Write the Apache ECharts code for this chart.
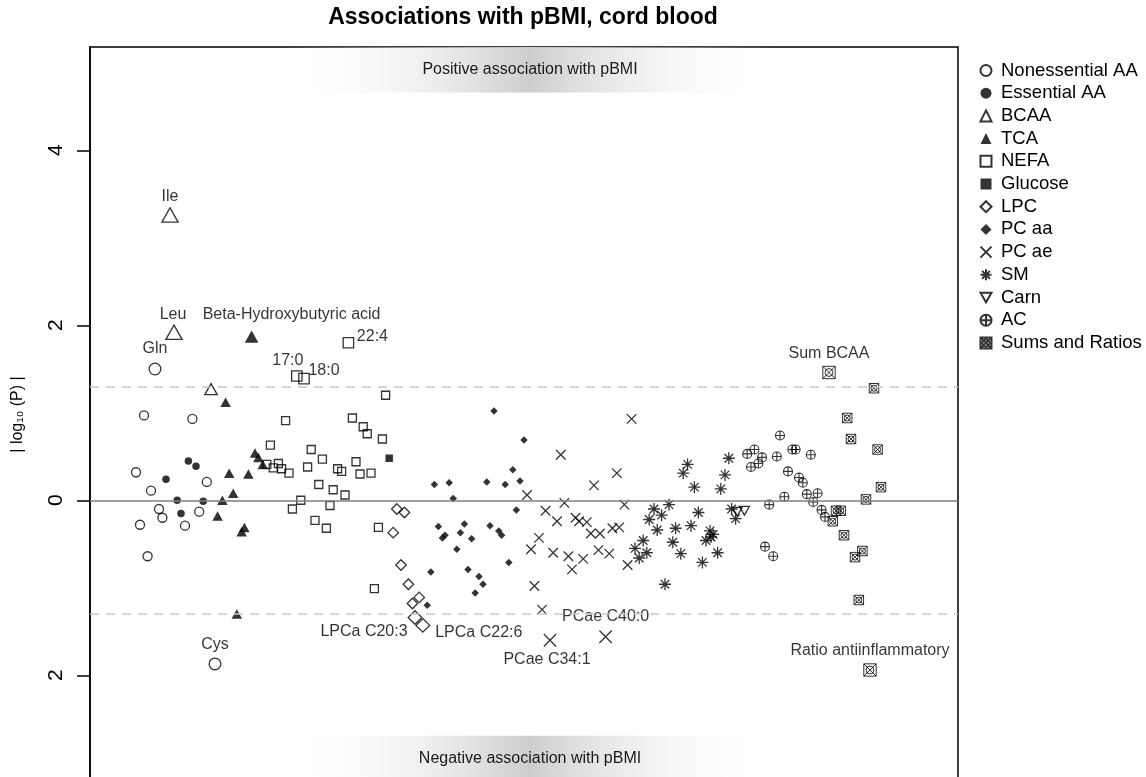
<!DOCTYPE html>
<html><head><meta charset="utf-8">
<script src="https://cdn.jsdelivr.net/npm/echarts@6/dist/echarts.min.js"></script>
<style>html,body{margin:0;padding:0;background:#fff}#c{width:1146px;height:777px}</style>
</head><body><div id="c"></div>
<script>
// ---- data: [metabolite index, signed |log10(P)|, optional label] ----
const nonessentialAA = [[16.25,1.50,'Gln'],[31.25,-1.87,'Cys'],[13.5,0.97],[25.6,0.93],[11.5,0.32],[29.2,0.21],[15.25,0.11],[17.25,-0.10],[18.1,-0.20],[27.3,-0.13],[12.5,-0.28],[23.75,-0.29],[14.4,-0.64]];
const essentialAA = [[24.6,0.45],[26.5,0.39],[19,0.24],[21.8,0.0],[28.3,-0.01],[22.75,-0.15]];
const bcaa = [[20,3.26,'Ile'],[21,1.92,'Leu'],[30.25,1.27]];
const tca = [[40.4,1.87,'Beta-Hydroxybutyric acid'],[33.9,1.12],[41.25,0.54],[42.1,0.49],[43.2,0.41],[34.8,0.31],[39.6,0.30],[35.8,0.08],[33.1,0.0],[31.9,-0.18],[38.6,-0.31],[37.9,-0.36],[36.7,-1.30]];
const nefa = [[51.7,1.42,'17:0'],[53.5,1.39,'18:0'],[64.6,1.80,'22:4'],[73.9,1.20],[48.9,0.91],[65.6,0.94],[68.3,0.84],[69.3,0.76],[73.1,0.70],[45.1,0.63],[55.3,0.58],[58.1,0.47],[66.5,0.44],[44.2,0.41],[47.1,0.42],[45.8,0.37],[47.9,0.36],[49.75,0.31],[54.4,0.38],[61.9,0.36],[62.9,0.33],[67.5,0.30],[70.25,0.31],[57.2,0.18],[60.8,0.12],[63.75,0.06],[52.7,0.0],[50.6,-0.10],[60,-0.06],[56.25,-0.23],[59.1,-0.32],[72.1,-0.31],[71.1,-1.01]];
const glucose = [[74.8,0.48]];
const lpc = [[81.25,-1.34,'LPCa C20:3'],[83.2,-1.43,'LPCa C22:6'],[76.7,-0.10],[78.6,-0.14],[75.8,-0.37],[77.75,-0.74],[79.6,-0.96],[82.3,-1.11],[80.6,-1.18]];
const pcaa = [[101,1.02],[108.5,0.69],[105.7,0.35],[86.1,0.18],[89.8,0.20],[99.2,0.21],[103.8,0.18],[107.5,0.22],[90.8,0.02],[106.6,-0.11],[87.1,-0.30],[93.6,-0.27],[100,-0.29],[88.1,-0.43],[88.75,-0.40],[92.6,-0.37],[95.4,-0.44],[102.2,-0.35],[102.9,-0.40],[91.7,-0.56],[104.7,-0.71],[85.2,-0.82],[94.5,-0.79],[97.25,-0.87],[98.25,-0.96],[96.3,-1.06],[84.3,-1.20]];
const pcae = [[115,-1.60,'PCae C34:1'],[128.9,-1.56,'PCae C40:0'],[135.4,0.93],[117.7,0.52],[131.7,0.31],[126,0.17],[109.25,0.06],[118.6,-0.03],[133.6,-0.05],[113.9,-0.12],[116.75,-0.24],[121.4,-0.20],[122.3,-0.24],[124.2,-0.25],[125.2,-0.38],[127.5,-0.38],[130.6,-0.32],[132.3,-0.31],[112.25,-0.43],[110.25,-0.56],[115.8,-0.60],[119.6,-0.64],[123.3,-0.67],[127.1,-0.57],[129.8,-0.61],[120.5,-0.79],[134.4,-0.74],[111.1,-0.98],[113,-1.25]];
const sm = [[149.4,0.41],[148.3,0.31],[151.1,0.15],[144.75,-0.05],[141,-0.10],[142.9,-0.17],[139.8,-0.22],[152.1,-0.14],[150.25,-0.29],[146.4,-0.32],[141.8,-0.34],[145.7,-0.48],[138.3,-0.46],[136.25,-0.55],[139.2,-0.60],[137.3,-0.66],[147.7,-0.61],[143.75,-0.96],[153.1,-0.71],[159.7,0.48],[158.75,0.29],[157.7,0.13],[160.4,-0.10],[161.4,-0.21],[154,-0.46],[155,-0.35],[155.8,-0.39],[156.9,-0.60],[155.25,-0.42]];
const carn = [[161.8,-0.13],[163.6,-0.12]];
const ac = [[172.5,0.74],[164.3,0.53],[166.1,0.58],[168,0.49],[165.25,0.38],[167.1,0.42],[171.7,0.50],[175.6,0.58],[176.4,0.58],[180.2,0.52],[174.5,0.33],[177.25,0.26],[178.2,0.20],[179.2,0.07],[181.9,0.08],[180.8,-0.02],[182.9,-0.11],[183.75,-0.19],[173.6,0.04],[169.8,-0.05],[168.75,-0.53],[170.8,-0.64]];
const sumsRatios = [[184.75,1.46,'Sum BCAA'],[195,-1.94,'Ratio antiinflammatory'],[196,1.28],[189.3,0.94],[190.25,0.70],[196.9,0.58],[197.75,0.15],[194,0.01],[186.5,-0.12],[187.7,-0.12],[185.7,-0.24],[188.5,-0.40],[193.1,-0.58],[191.25,-0.65],[192.2,-1.14]];
const yTicks = [-2, 0, 2, 4];
const significance = 1.3;

// ---- styling ----
const FONT = "'Liberation Sans', Arial, Helvetica, sans-serif";
const P_X = 'path://M0,0L10,10M10,0L0,10';
const P_AST = 'path://M5,0L5,10M0,5L10,5M1.46,1.46L8.54,8.54M8.54,1.46L1.46,8.54';
const P_OPLUS = 'path://M10,5A5,5,0,1,1,0,5A5,5,0,1,1,10,5ZM0,5L10,5M5,0L5,10';
const P_BOXX = 'path://M0,0L10,0L10,10L0,10ZM0,0L10,10M10,0L0,10M8.2,5A3.2,3.2,0,1,1,1.8,5A3.2,3.2,0,1,1,8.2,5Z';
const P_DOWN = 'path://M0,0L10,0L5,8.66Z';
const labelOffsets = {
  'Ile':[0,-18], 'Leu':[-1,-18], 'Gln':[0,-20], 'Cys':[0,-19],
  'Beta-Hydroxybutyric acid':[40,-22], '22:4':[24,-6], '17:0':[-9,-15], '18:0':[20,-8],
  'LPCa C20:3':[-51,14], 'LPCa C22:6':[56,7], 'PCae C34:1':[-3,19], 'PCae C40:0':[0,-20],
  'Sum BCAA':[0,-19], 'Ratio antiinflammatory':[0,-19]
};
const groups = [
  {name:'Nonessential AA', data:nonessentialAA, symbol:'circle', size:[9,9], fill:false, lw:1.3},
  {name:'Essential AA', data:essentialAA, symbol:'circle', size:[7.5,7.5], fill:true},
  {name:'BCAA', data:bcaa, symbol:'triangle', size:[12.5,11], fill:false, lw:1.3},
  {name:'TCA', data:tca, symbol:'triangle', size:[10.5,9.5], fill:true},
  {name:'NEFA', data:nefa, symbol:'rect', size:[8,8], fill:false, lw:1.3},
  {name:'Glucose', data:glucose, symbol:'rect', size:[7.5,7.5], fill:true},
  {name:'LPC', data:lpc, symbol:'diamond', size:[10.5,10.5], fill:false, lw:1.3},
  {name:'PC aa', data:pcaa, symbol:'diamond', size:[7.5,7.5], fill:true},
  {name:'PC ae', data:pcae, symbol:P_X, size:[9.5,9.5], fill:false, lw:1.3},
  {name:'SM', data:sm, symbol:P_AST, size:[12,12], fill:false, lw:1.3},
  {name:'Carn', data:carn, symbol:P_DOWN, size:[10,8.7], fill:false, lw:1.3},
  {name:'AC', data:ac, symbol:P_OPLUS, size:[9,9], fill:false, lw:1.1},
  {name:'Sums and Ratios', data:sumsRatios, symbol:P_BOXX, size:[9.5,9.5], fill:false, lw:1.0}
];

const series = groups.map(g => ({
  type:'scatter', name:g.name, symbol:g.symbol, symbolSize:g.size,
  itemStyle:{color: g.fill ? '#000' : 'rgba(0,0,0,0)', borderColor:'#000', borderWidth: g.fill ? 0 : g.lw},
  emphasis:{disabled:true},
  data: g.data.map(p => {
    const item = {value:[p[0], p[1]]};
    if (p[2]) {
      item.name = p[2];
      item.symbolSize = [g.size[0]*1.3, g.size[1]*1.3];
      item.label = {show:true, position:'inside', offset:labelOffsets[p[2]], formatter:p[2],
        color:'#000', fontSize:16, fontFamily:FONT};
    }
    return item;
  })
}));

const bandGrad = {type:'linear', x:0, y:0, x2:1, y2:0, colorStops:[
  {offset:0, color:'rgba(255,255,255,0)'}, {offset:0.5, color:'#cdcdcd'}, {offset:1, color:'rgba(255,255,255,0)'}]};
series.push({
  type:'scatter', name:'refs', data:[], silent:true,
  markLine:{silent:true, symbol:'none', label:{show:false}, animation:false, data:[
    {yAxis:0, lineStyle:{color:'#7f7f7f', type:'solid', width:1.6}},
    {yAxis:significance, lineStyle:{color:'#c8c8c8', type:[9,7], width:1.6}},
    {yAxis:-significance, lineStyle:{color:'#c8c8c8', type:[9,7], width:1.6}}
  ]},
  markArea:{silent:true, itemStyle:{color:bandGrad}, label:{show:true, position:'inside', color:'#1a1a1a', fontSize:16, fontFamily:FONT}, data:[
    [{name:'Positive association with pBMI', xAxis:49.5, yAxis:5.18}, {xAxis:170.5, yAxis:4.66}],
    [{name:'Negative association with pBMI', xAxis:49.5, yAxis:-2.69}, {xAxis:170.5, yAxis:-3.22}]
  ]}
});

const chart = echarts.init(document.getElementById('c'), null, {renderer:'canvas'});
chart.setOption({
  animation:false,
  backgroundColor:'#fff',
  textStyle:{fontFamily:FONT},
  graphic:[{type:'text', x:523, y:18, style:{text:'Associations with pBMI, cord blood', font:"bold 23px 'Liberation Sans', Arial, sans-serif", fill:'#000', textAlign:'center', textVerticalAlign:'middle'}}],
  grid:{left:90, top:47, width:868, height:735, show:true, borderColor:'#000', borderWidth:1.5, backgroundColor:'transparent', outerBoundsMode:'none', containLabel:false},
  legend:{
    data: groups.map(g => g.name), orient:'vertical', left:974.5, top:56,
    itemWidth:11, itemHeight:11, itemGap:3.7, selectedMode:false,
    textStyle:{fontSize:18.5, lineHeight:19, color:'#000', fontFamily:FONT, padding:[0,0,0,4.5]}
  },
  xAxis:{type:'value', min:0, max:217, show:false},
  yAxis:{
    type:'value', min:-3.22, max:5.18,
    name:'| log\u2081\u2080 (P) |', nameLocation:'middle', nameRotate:90, nameGap:64,
    nameTextStyle:{fontSize:16, color:'#000', fontFamily:FONT},
    axisLine:{show:true, lineStyle:{color:'#000', width:1.5}},
    axisTick:{show:true, inside:false, length:13, customValues:yTicks, lineStyle:{color:'#000', width:1.5}},
    axisLabel:{show:true, rotate:90, margin:23, fontSize:21, color:'#000', customValues:yTicks, formatter:v => String(Math.abs(v))},
    splitLine:{show:false}
  },
  series: series
});
</script></body></html>
